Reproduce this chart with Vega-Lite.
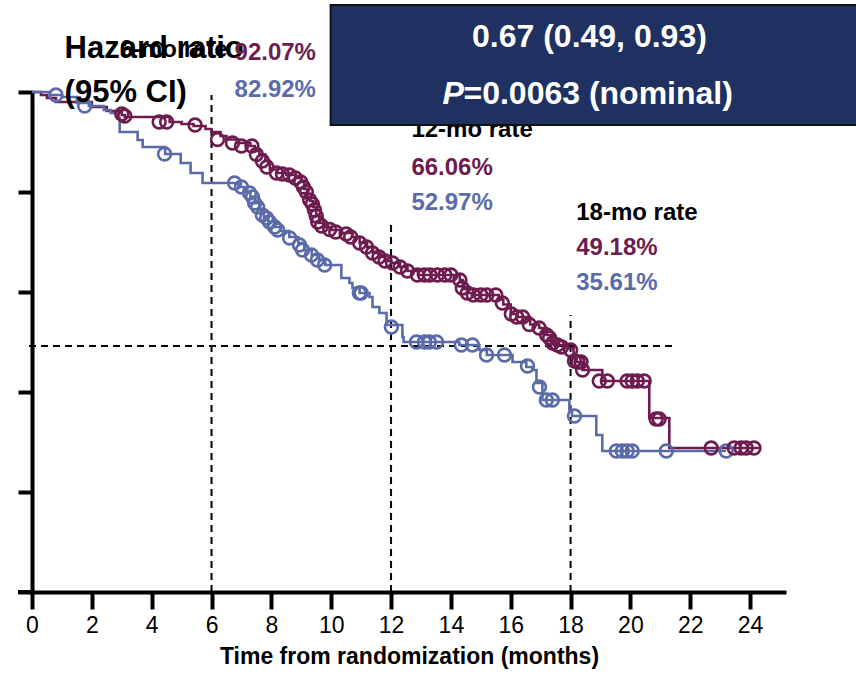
{
  "$schema": "https://vega.github.io/schema/vega-lite/v6.json",
  "autosize": {"type": "none"},
  "width": 754,
  "height": 500,
  "padding": {"left": 32, "top": 92, "right": 70, "bottom": 89},
  "background": "white",
  "config": {
    "view": {"stroke": null},
    "font": "Liberation Sans, Arial, sans-serif",
    "axis": {"grid": false, "domainColor": "black", "tickColor": "black", "labelColor": "black", "titleColor": "black"}
  },
  "datasets": {
    "km": [
      {"arm": "Treatment", "t": 0, "s": 1.0}, {"arm": "Treatment", "t": 0.3, "s": 0.994}, {"arm": "Treatment", "t": 0.5, "s": 0.988}, {"arm": "Treatment", "t": 0.8, "s": 0.98},
      {"arm": "Treatment", "t": 2.0, "s": 0.97}, {"arm": "Treatment", "t": 2.5, "s": 0.962}, {"arm": "Treatment", "t": 3.0, "s": 0.954}, {"arm": "Treatment", "t": 3.1, "s": 0.95},
      {"arm": "Treatment", "t": 4.6, "s": 0.94}, {"arm": "Treatment", "t": 5.0, "s": 0.936}, {"arm": "Treatment", "t": 5.4, "s": 0.932}, {"arm": "Treatment", "t": 5.8, "s": 0.926},
      {"arm": "Treatment", "t": 6.0, "s": 0.92}, {"arm": "Treatment", "t": 6.3, "s": 0.912}, {"arm": "Treatment", "t": 6.5, "s": 0.905}, {"arm": "Treatment", "t": 6.9, "s": 0.898},
      {"arm": "Treatment", "t": 7.3, "s": 0.892}, {"arm": "Treatment", "t": 7.45, "s": 0.882}, {"arm": "Treatment", "t": 7.6, "s": 0.875}, {"arm": "Treatment", "t": 7.8, "s": 0.862},
      {"arm": "Treatment", "t": 7.95, "s": 0.845}, {"arm": "Treatment", "t": 8.2, "s": 0.838}, {"arm": "Treatment", "t": 8.5, "s": 0.834}, {"arm": "Treatment", "t": 8.8, "s": 0.828},
      {"arm": "Treatment", "t": 9.0, "s": 0.82}, {"arm": "Treatment", "t": 9.1, "s": 0.806}, {"arm": "Treatment", "t": 9.2, "s": 0.79}, {"arm": "Treatment", "t": 9.3, "s": 0.782},
      {"arm": "Treatment", "t": 9.4, "s": 0.77}, {"arm": "Treatment", "t": 9.5, "s": 0.752}, {"arm": "Treatment", "t": 9.6, "s": 0.738}, {"arm": "Treatment", "t": 9.75, "s": 0.73},
      {"arm": "Treatment", "t": 10.0, "s": 0.724}, {"arm": "Treatment", "t": 10.3, "s": 0.718}, {"arm": "Treatment", "t": 10.7, "s": 0.71}, {"arm": "Treatment", "t": 10.95, "s": 0.698},
      {"arm": "Treatment", "t": 11.2, "s": 0.69}, {"arm": "Treatment", "t": 11.4, "s": 0.678}, {"arm": "Treatment", "t": 11.65, "s": 0.67}, {"arm": "Treatment", "t": 11.8, "s": 0.662},
      {"arm": "Treatment", "t": 12.0, "s": 0.658}, {"arm": "Treatment", "t": 12.3, "s": 0.65}, {"arm": "Treatment", "t": 12.55, "s": 0.642}, {"arm": "Treatment", "t": 12.9, "s": 0.634},
      {"arm": "Treatment", "t": 14.3, "s": 0.624}, {"arm": "Treatment", "t": 14.4, "s": 0.606}, {"arm": "Treatment", "t": 14.55, "s": 0.598}, {"arm": "Treatment", "t": 14.7, "s": 0.594},
      {"arm": "Treatment", "t": 15.6, "s": 0.585}, {"arm": "Treatment", "t": 15.75, "s": 0.575}, {"arm": "Treatment", "t": 16.0, "s": 0.556}, {"arm": "Treatment", "t": 16.2, "s": 0.55},
      {"arm": "Treatment", "t": 16.65, "s": 0.535}, {"arm": "Treatment", "t": 16.95, "s": 0.528}, {"arm": "Treatment", "t": 17.2, "s": 0.514}, {"arm": "Treatment", "t": 17.35, "s": 0.502},
      {"arm": "Treatment", "t": 17.45, "s": 0.494}, {"arm": "Treatment", "t": 17.9, "s": 0.488}, {"arm": "Treatment", "t": 18.1, "s": 0.47}, {"arm": "Treatment", "t": 18.2, "s": 0.46},
      {"arm": "Treatment", "t": 18.4, "s": 0.444}, {"arm": "Treatment", "t": 19.06, "s": 0.422}, {"arm": "Treatment", "t": 20.63, "s": 0.348}, {"arm": "Treatment", "t": 21.3, "s": 0.288},
      {"arm": "Treatment", "t": 24.3, "s": 0.288},
      {"arm": "Control", "t": 0, "s": 1.0}, {"arm": "Control", "t": 0.6, "s": 0.994}, {"arm": "Control", "t": 1.0, "s": 0.99}, {"arm": "Control", "t": 1.5, "s": 0.978},
      {"arm": "Control", "t": 1.9, "s": 0.972}, {"arm": "Control", "t": 2.4, "s": 0.964}, {"arm": "Control", "t": 2.63, "s": 0.958}, {"arm": "Control", "t": 2.86, "s": 0.948},
      {"arm": "Control", "t": 2.93, "s": 0.92}, {"arm": "Control", "t": 3.53, "s": 0.904}, {"arm": "Control", "t": 3.7, "s": 0.89}, {"arm": "Control", "t": 4.45, "s": 0.876},
      {"arm": "Control", "t": 4.97, "s": 0.858}, {"arm": "Control", "t": 5.3, "s": 0.838}, {"arm": "Control", "t": 5.7, "s": 0.818}, {"arm": "Control", "t": 6.9, "s": 0.81},
      {"arm": "Control", "t": 7.1, "s": 0.8}, {"arm": "Control", "t": 7.3, "s": 0.79}, {"arm": "Control", "t": 7.45, "s": 0.778}, {"arm": "Control", "t": 7.6, "s": 0.764},
      {"arm": "Control", "t": 7.75, "s": 0.75}, {"arm": "Control", "t": 7.9, "s": 0.74}, {"arm": "Control", "t": 8.1, "s": 0.73}, {"arm": "Control", "t": 8.3, "s": 0.722},
      {"arm": "Control", "t": 8.6, "s": 0.71}, {"arm": "Control", "t": 8.9, "s": 0.698}, {"arm": "Control", "t": 9.1, "s": 0.684}, {"arm": "Control", "t": 9.35, "s": 0.674},
      {"arm": "Control", "t": 9.6, "s": 0.664}, {"arm": "Control", "t": 9.8, "s": 0.654}, {"arm": "Control", "t": 10.34, "s": 0.628}, {"arm": "Control", "t": 10.61, "s": 0.618},
      {"arm": "Control", "t": 10.71, "s": 0.608}, {"arm": "Control", "t": 10.95, "s": 0.598}, {"arm": "Control", "t": 11.28, "s": 0.59}, {"arm": "Control", "t": 11.38, "s": 0.57},
      {"arm": "Control", "t": 11.61, "s": 0.558}, {"arm": "Control", "t": 11.85, "s": 0.534}, {"arm": "Control", "t": 12.38, "s": 0.51}, {"arm": "Control", "t": 12.42, "s": 0.5},
      {"arm": "Control", "t": 14.28, "s": 0.494}, {"arm": "Control", "t": 14.95, "s": 0.484}, {"arm": "Control", "t": 15.2, "s": 0.474}, {"arm": "Control", "t": 16.06, "s": 0.46},
      {"arm": "Control", "t": 16.52, "s": 0.45}, {"arm": "Control", "t": 16.72, "s": 0.444}, {"arm": "Control", "t": 16.86, "s": 0.418}, {"arm": "Control", "t": 17.06, "s": 0.384},
      {"arm": "Control", "t": 17.96, "s": 0.364}, {"arm": "Control", "t": 18.05, "s": 0.352}, {"arm": "Control", "t": 18.86, "s": 0.314}, {"arm": "Control", "t": 19.06, "s": 0.282},
      {"arm": "Control", "t": 23.2, "s": 0.282}
    ],
    "cens": [
      {"arm": "Control", "t": 0.8, "s": 0.994}, {"arm": "Control", "t": 1.76, "s": 0.972}, {"arm": "Control", "t": 4.43, "s": 0.876}, {"arm": "Control", "t": 6.77, "s": 0.818},
      {"arm": "Control", "t": 7.0, "s": 0.81}, {"arm": "Control", "t": 7.27, "s": 0.798}, {"arm": "Control", "t": 7.37, "s": 0.79}, {"arm": "Control", "t": 7.44, "s": 0.778},
      {"arm": "Control", "t": 7.54, "s": 0.77}, {"arm": "Control", "t": 7.7, "s": 0.754}, {"arm": "Control", "t": 7.84, "s": 0.748}, {"arm": "Control", "t": 7.94, "s": 0.74},
      {"arm": "Control", "t": 8.11, "s": 0.73}, {"arm": "Control", "t": 8.21, "s": 0.724}, {"arm": "Control", "t": 8.61, "s": 0.708}, {"arm": "Control", "t": 8.94, "s": 0.694},
      {"arm": "Control", "t": 9.04, "s": 0.684}, {"arm": "Control", "t": 9.34, "s": 0.674}, {"arm": "Control", "t": 9.54, "s": 0.664}, {"arm": "Control", "t": 9.78, "s": 0.654},
      {"arm": "Control", "t": 10.94, "s": 0.598}, {"arm": "Control", "t": 11.0, "s": 0.598}, {"arm": "Control", "t": 12.01, "s": 0.53}, {"arm": "Control", "t": 12.85, "s": 0.5},
      {"arm": "Control", "t": 13.12, "s": 0.5}, {"arm": "Control", "t": 13.28, "s": 0.5}, {"arm": "Control", "t": 13.52, "s": 0.5}, {"arm": "Control", "t": 14.35, "s": 0.494},
      {"arm": "Control", "t": 14.72, "s": 0.494}, {"arm": "Control", "t": 15.19, "s": 0.474}, {"arm": "Control", "t": 15.79, "s": 0.474}, {"arm": "Control", "t": 16.56, "s": 0.452},
      {"arm": "Control", "t": 16.96, "s": 0.41}, {"arm": "Control", "t": 17.19, "s": 0.384}, {"arm": "Control", "t": 17.39, "s": 0.384}, {"arm": "Control", "t": 18.13, "s": 0.352},
      {"arm": "Control", "t": 19.53, "s": 0.282}, {"arm": "Control", "t": 19.73, "s": 0.282}, {"arm": "Control", "t": 19.89, "s": 0.282}, {"arm": "Control", "t": 20.06, "s": 0.282},
      {"arm": "Control", "t": 21.2, "s": 0.282}, {"arm": "Control", "t": 23.2, "s": 0.282},
      {"arm": "Treatment", "t": 3.0, "s": 0.956}, {"arm": "Treatment", "t": 3.1, "s": 0.952}, {"arm": "Treatment", "t": 4.25, "s": 0.94}, {"arm": "Treatment", "t": 4.5, "s": 0.94},
      {"arm": "Treatment", "t": 5.45, "s": 0.934}, {"arm": "Treatment", "t": 6.2, "s": 0.905}, {"arm": "Treatment", "t": 6.7, "s": 0.898}, {"arm": "Treatment", "t": 7.0, "s": 0.892},
      {"arm": "Treatment", "t": 7.35, "s": 0.892}, {"arm": "Treatment", "t": 7.5, "s": 0.875}, {"arm": "Treatment", "t": 7.7, "s": 0.862}, {"arm": "Treatment", "t": 7.85, "s": 0.85},
      {"arm": "Treatment", "t": 8.17, "s": 0.838}, {"arm": "Treatment", "t": 8.37, "s": 0.836}, {"arm": "Treatment", "t": 8.6, "s": 0.834}, {"arm": "Treatment", "t": 8.8, "s": 0.828},
      {"arm": "Treatment", "t": 8.98, "s": 0.82}, {"arm": "Treatment", "t": 9.07, "s": 0.81}, {"arm": "Treatment", "t": 9.17, "s": 0.8}, {"arm": "Treatment", "t": 9.28, "s": 0.784},
      {"arm": "Treatment", "t": 9.37, "s": 0.776}, {"arm": "Treatment", "t": 9.44, "s": 0.764}, {"arm": "Treatment", "t": 9.5, "s": 0.752}, {"arm": "Treatment", "t": 9.55, "s": 0.74},
      {"arm": "Treatment", "t": 9.68, "s": 0.732}, {"arm": "Treatment", "t": 9.95, "s": 0.725}, {"arm": "Treatment", "t": 10.15, "s": 0.72}, {"arm": "Treatment", "t": 10.5, "s": 0.716},
      {"arm": "Treatment", "t": 10.65, "s": 0.71}, {"arm": "Treatment", "t": 10.95, "s": 0.698}, {"arm": "Treatment", "t": 11.18, "s": 0.69}, {"arm": "Treatment", "t": 11.38, "s": 0.678},
      {"arm": "Treatment", "t": 11.6, "s": 0.67}, {"arm": "Treatment", "t": 11.8, "s": 0.662}, {"arm": "Treatment", "t": 12.05, "s": 0.658}, {"arm": "Treatment", "t": 12.3, "s": 0.65},
      {"arm": "Treatment", "t": 12.55, "s": 0.642}, {"arm": "Treatment", "t": 12.88, "s": 0.634}, {"arm": "Treatment", "t": 13.12, "s": 0.634}, {"arm": "Treatment", "t": 13.3, "s": 0.634},
      {"arm": "Treatment", "t": 13.55, "s": 0.634}, {"arm": "Treatment", "t": 13.8, "s": 0.634}, {"arm": "Treatment", "t": 14.0, "s": 0.634}, {"arm": "Treatment", "t": 14.3, "s": 0.624},
      {"arm": "Treatment", "t": 14.38, "s": 0.608}, {"arm": "Treatment", "t": 14.55, "s": 0.598}, {"arm": "Treatment", "t": 14.75, "s": 0.594}, {"arm": "Treatment", "t": 15.0, "s": 0.594},
      {"arm": "Treatment", "t": 15.2, "s": 0.594}, {"arm": "Treatment", "t": 15.5, "s": 0.594}, {"arm": "Treatment", "t": 15.72, "s": 0.578}, {"arm": "Treatment", "t": 16.02, "s": 0.556},
      {"arm": "Treatment", "t": 16.2, "s": 0.55}, {"arm": "Treatment", "t": 16.4, "s": 0.55}, {"arm": "Treatment", "t": 16.62, "s": 0.535}, {"arm": "Treatment", "t": 16.95, "s": 0.528},
      {"arm": "Treatment", "t": 17.2, "s": 0.514}, {"arm": "Treatment", "t": 17.3, "s": 0.508}, {"arm": "Treatment", "t": 17.4, "s": 0.498}, {"arm": "Treatment", "t": 17.56, "s": 0.494},
      {"arm": "Treatment", "t": 17.7, "s": 0.49}, {"arm": "Treatment", "t": 18.0, "s": 0.484}, {"arm": "Treatment", "t": 18.13, "s": 0.462}, {"arm": "Treatment", "t": 18.25, "s": 0.46},
      {"arm": "Treatment", "t": 18.35, "s": 0.46}, {"arm": "Treatment", "t": 18.4, "s": 0.444}, {"arm": "Treatment", "t": 18.96, "s": 0.422}, {"arm": "Treatment", "t": 19.23, "s": 0.422},
      {"arm": "Treatment", "t": 19.89, "s": 0.422}, {"arm": "Treatment", "t": 20.06, "s": 0.422}, {"arm": "Treatment", "t": 20.23, "s": 0.422}, {"arm": "Treatment", "t": 20.46, "s": 0.422},
      {"arm": "Treatment", "t": 20.86, "s": 0.346}, {"arm": "Treatment", "t": 20.96, "s": 0.346}, {"arm": "Treatment", "t": 22.7, "s": 0.288}, {"arm": "Treatment", "t": 23.47, "s": 0.288},
      {"arm": "Treatment", "t": 23.7, "s": 0.288}, {"arm": "Treatment", "t": 23.87, "s": 0.288}, {"arm": "Treatment", "t": 24.13, "s": 0.288}
    ],
    "vref": [
      {"t": 6, "s0": 0, "s1": 0.994},
      {"t": 12, "s0": 0, "s1": 0.734},
      {"t": 18, "s0": 0, "s1": 0.554}
    ],
    "href": [
      {"t0": -0.1, "t1": 21.4, "s": 0.492}
    ]
  },
  "layer": [
    {
      "data": {"name": "vref"},
      "mark": {"type": "rule", "color": "black", "strokeWidth": 2, "strokeDash": [7, 5]},
      "encoding": {
        "x": {"field": "t", "type": "quantitative", "scale": {"domain": [0, 25.2], "nice": false, "zero": false},
          "axis": {"values": [0, 2, 4, 6, 8, 10, 12, 14, 16, 18, 20, 22, 24], "title": "Time from randomization (months)", "titleFontSize": 23, "titleFontWeight": "bold", "titlePadding": 8, "labelFontSize": 23, "labelPadding": 5, "tickSize": 17, "tickWidth": 4, "domainWidth": 4, "labelFlush": false}},
        "y": {"field": "s0", "type": "quantitative", "scale": {"domain": [0, 1], "nice": false},
          "axis": {"values": [0, 0.2, 0.4, 0.6, 0.8, 1.0], "labels": false, "title": null, "tickSize": 14, "tickWidth": 4, "domainWidth": 4}},
        "y2": {"field": "s1"}
      }
    },
    {
      "data": {"name": "href"},
      "mark": {"type": "rule", "color": "black", "strokeWidth": 2, "strokeDash": [7, 5]},
      "encoding": {
        "x": {"field": "t0", "type": "quantitative"},
        "x2": {"field": "t1"},
        "y": {"field": "s", "type": "quantitative"}
      }
    },
    {
      "data": {"values": [{"a": 1}]},
      "mark": {"type": "rule", "color": "black", "strokeWidth": 4},
      "encoding": {"x": {"datum": -0.47}, "x2": {"datum": 0}, "y": {"datum": 0}}
    },
    {
      "data": {"name": "km"},
      "mark": {"type": "line", "interpolate": "step-after", "strokeWidth": 2.6},
      "encoding": {
        "x": {"field": "t", "type": "quantitative"},
        "y": {"field": "s", "type": "quantitative"},
        "color": {"field": "arm", "type": "nominal", "scale": {"domain": ["Treatment", "Control"], "range": ["#6E1C4F", "#5B6BA9"]}, "legend": null},
        "detail": {"field": "arm"}
      }
    },
    {
      "data": {"name": "cens"},
      "mark": {"type": "point", "shape": "circle", "filled": false, "size": 165, "strokeWidth": 2.6, "opacity": 1},
      "encoding": {
        "x": {"field": "t", "type": "quantitative"},
        "y": {"field": "s", "type": "quantitative"},
        "color": {"field": "arm", "type": "nominal", "legend": null}
      }
    },
    {
      "data": {"values": [
        {"txt": "6-mo rate", "t": 2.93, "s": 1.07, "big": false},
        {"txt": "Hazard ratio", "t": 1.09, "s": 1.068, "big": true},
        {"txt": "(95% CI)", "t": 1.09, "s": 0.98, "big": true},
        {"txt": "12-mo rate", "t": 12.68, "s": 0.91, "big": false},
        {"txt": "18-mo rate", "t": 18.19, "s": 0.744, "big": false}
      ]},
      "mark": {"type": "text", "align": "left", "baseline": "alphabetic", "fontWeight": "bold", "color": "black"},
      "encoding": {
        "x": {"field": "t", "type": "quantitative"},
        "y": {"field": "s", "type": "quantitative"},
        "text": {"field": "txt"},
        "size": {"condition": {"test": "datum.big", "value": 31}, "value": 24}
      }
    },
    {
      "data": {"values": [
        {"txt": "92.07%", "t": 6.77, "s": 1.064, "arm": "Treatment"},
        {"txt": "82.92%", "t": 6.77, "s": 0.99, "arm": "Control"},
        {"txt": "66.06%", "t": 12.68, "s": 0.834, "arm": "Treatment"},
        {"txt": "52.97%", "t": 12.68, "s": 0.764, "arm": "Control"},
        {"txt": "49.18%", "t": 18.19, "s": 0.674, "arm": "Treatment"},
        {"txt": "35.61%", "t": 18.19, "s": 0.604, "arm": "Control"}
      ]},
      "mark": {"type": "text", "align": "left", "baseline": "alphabetic", "fontWeight": "bold", "fontSize": 24},
      "encoding": {
        "x": {"field": "t", "type": "quantitative"},
        "y": {"field": "s", "type": "quantitative"},
        "text": {"field": "txt"},
        "color": {"field": "arm", "type": "nominal", "legend": null}
      }
    },
    {
      "data": {"values": [{"t0": 9.98, "t1": 27.6, "s0": 0.934, "s1": 1.174}]},
      "mark": {"type": "rect", "color": "#1F3160", "stroke": "#111111", "strokeWidth": 2},
      "encoding": {
        "x": {"field": "t0", "type": "quantitative"},
        "x2": {"field": "t1"},
        "y": {"field": "s0", "type": "quantitative"},
        "y2": {"field": "s1"}
      }
    },
    {
      "data": {"values": [{"txt": "0.67 (0.49, 0.93)", "t": 18.63, "s": 1.09}]},
      "mark": {"type": "text", "align": "center", "baseline": "alphabetic", "fontWeight": "bold", "fontSize": 32, "color": "white"},
      "encoding": {
        "x": {"field": "t", "type": "quantitative"},
        "y": {"field": "s", "type": "quantitative"},
        "text": {"field": "txt"}
      }
    },
    {
      "data": {"values": [{"txt": "P", "t": 13.72, "s": 0.976}]},
      "mark": {"type": "text", "align": "left", "baseline": "alphabetic", "fontWeight": "bold", "fontStyle": "italic", "fontSize": 32, "color": "white"},
      "encoding": {
        "x": {"field": "t", "type": "quantitative"},
        "y": {"field": "s", "type": "quantitative"},
        "text": {"field": "txt"}
      }
    },
    {
      "data": {"values": [{"txt": "=0.0063 (nominal)", "t": 14.42, "s": 0.976}]},
      "mark": {"type": "text", "align": "left", "baseline": "alphabetic", "fontWeight": "bold", "fontSize": 32, "color": "white"},
      "encoding": {
        "x": {"field": "t", "type": "quantitative"},
        "y": {"field": "s", "type": "quantitative"},
        "text": {"field": "txt"}
      }
    }
  ]
}
